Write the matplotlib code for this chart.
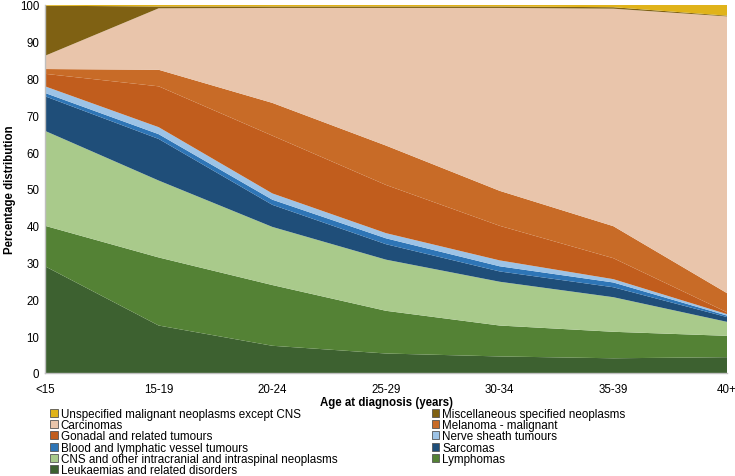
import matplotlib

matplotlib.use("Agg")

import matplotlib.pyplot as plt
import numpy as np
from matplotlib.patches import Patch

plt.rcParams["font.family"] = ["Liberation Sans", "DejaVu Sans"]

age_groups = ["<15", "15-19", "20-24", "25-29", "30-34", "35-39", "40+"]

# stacked bottom to top, percent of cases in each age group
leukaemias = [29.0, 12.9, 7.4, 5.3, 4.5, 4.0, 4.3]
lymphomas = [11.0, 18.5, 16.5, 11.6, 8.4, 7.2, 5.8]
cns = [25.8, 20.9, 15.8, 13.9, 11.9, 9.4, 3.8]
sarcomas = [9.4, 11.3, 6.0, 4.2, 2.8, 2.7, 1.3]
blood_vessel = [0.9, 1.3, 1.4, 1.6, 1.4, 1.3, 0.4]
nerve_sheath = [1.8, 1.9, 1.7, 1.4, 1.6, 0.9, 0.4]
gonadal = [3.4, 11.1, 15.7, 13.1, 9.4, 5.7, 0.5]
melanoma = [1.3, 4.5, 8.9, 10.7, 9.5, 8.7, 5.2]
carcinomas = [3.6, 16.7, 25.8, 37.4, 49.7, 59.1, 75.2]
miscellaneous = [13.6, 0.5, 0.4, 0.4, 0.4, 0.4, 0.2]
unspecified = [0.2, 0.4, 0.4, 0.4, 0.4, 0.6, 2.9]

series = [
    ("Leukaemias and related disorders", leukaemias, "#3d6130"),
    ("Lymphomas", lymphomas, "#548235"),
    ("CNS and other intracranial and intraspinal neoplasms", cns, "#a9ca8b"),
    ("Sarcomas", sarcomas, "#1f4e79"),
    ("Blood and lymphatic vessel tumours", blood_vessel, "#2e75b6"),
    ("Nerve sheath tumours", nerve_sheath, "#9dc3e6"),
    ("Gonadal and related tumours", gonadal, "#c15d1d"),
    ("Melanoma - malignant", melanoma, "#c86b27"),
    ("Carcinomas", carcinomas, "#e9c5ab"),
    ("Miscellaneous specified neoplasms", miscellaneous, "#7f6113"),
    ("Unspecified malignant neoplasms except CNS", unspecified, "#e0b31a"),
]

fig = plt.figure(figsize=(7.35, 4.77), dpi=100)
ax = fig.add_axes([45 / 735, 1 - 374 / 477, 682 / 735, 368 / 477])

x = np.arange(len(age_groups))
ax.stackplot(
    x,
    [values for _, values, _ in series],
    colors=[color for _, _, color in series],
    linewidth=0,
)

ax.set_xlim(0, len(age_groups) - 1)
ax.set_ylim(0, 100)
ax.set_xticks(x)
ax.set_xticklabels(age_groups)
ax.set_yticks(range(0, 101, 10))
ax.tick_params(axis="y", labelsize=8.3, length=0, pad=4)
ax.tick_params(axis="x", labelsize=8.3, length=0, pad=7)
for side in ["top", "right"]:
    ax.spines[side].set_visible(False)
for side in ["left", "bottom"]:
    ax.spines[side].set_color("#bfbfbf")
    ax.spines[side].set_linewidth(1.0)
ax.set_ylabel("Percentage distribution", fontsize=8.3, fontweight="bold")
ax.yaxis.set_label_coords(-29 / 682, 0.5)
ax.set_xlabel("Age at diagnosis (years)", fontsize=8.3, fontweight="bold", labelpad=1)

# legend in the same row-major order as the reference (two columns)
top_down = series[::-1]
col1 = top_down[0::2]
col2 = top_down[1::2]
handles = [
    Patch(facecolor=color, edgecolor="#555555", linewidth=0.6, label=name)
    for name, _, color in col1 + col2
]
fig.legend(
    handles=handles,
    loc="upper left",
    bbox_to_anchor=(50 / 735, 1 - 409 / 477),
    ncol=2,
    frameon=False,
    fontsize=8.4,
    handlelength=0.65,
    handleheight=0.65,
    handletextpad=0.25,
    labelspacing=-0.065,
    columnspacing=8.1,
    borderpad=0,
    borderaxespad=0,
)

fig.savefig("out.png", dpi=100)
plt.close(fig)
